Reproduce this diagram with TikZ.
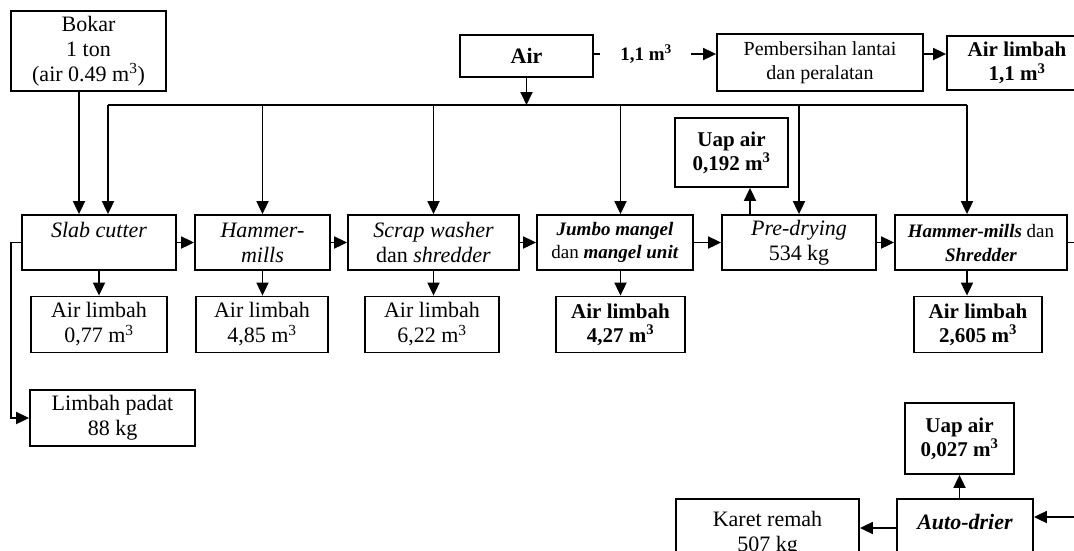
\documentclass[tikz,border=0pt]{standalone}
\usepackage{fontspec}
\setmainfont{Liberation Serif}
\usetikzlibrary{arrows.meta,calc}
\begin{document}
\begin{tikzpicture}[x=1pt,y=-1pt,
  box/.style={draw, line width=1.8pt, inner sep=0pt, align=center, font=\fontsize{22}{25}\selectfont},
  bbox/.style={box, font=\fontsize{21}{24}\selectfont\bfseries},
  arr/.style={line width=1.8pt, -{Triangle[length=13pt,width=12pt]}},
  ln/.style={line width=1.8pt}]
\useasboundingbox (0,0) rectangle (1074,550);
\clip (0,0) rectangle (1074,550);

% top row
\node[box, minimum width=155pt, minimum height=80pt] (bokar) at (88.5,51) {Bokar\\1 ton\\(air 0.49 m\textsuperscript{3})};
\node[box, minimum width=133pt, minimum height=42pt, font=\fontsize{22}{25}\selectfont\bfseries] (air) at (526.5,56) {Air};
\node[font=\fontsize{19}{22}\selectfont\bfseries] (q) at (646,54) {1,1 m\textsuperscript{3}};
\node[box, minimum width=206pt, minimum height=57pt, font=\fontsize{20}{24}\selectfont] (pemb) at (820,62.5) {Pembersihan lantai\\dan peralatan};
\node[bbox, minimum width=140pt, minimum height=54pt] (al11) at (1017,63) {Air limbah\\1,1 m\textsuperscript{3}};
\node[bbox, minimum width=113pt, minimum height=69pt] (uap1) at (731.5,152.5) {Uap air\\0,192 m\textsuperscript{3}};

% process row
\node[box, minimum width=154pt, minimum height=55pt] (slab) at (99,242.5) {\textit{Slab cutter}\\\mbox{}};
\node[box, minimum width=135pt, minimum height=55pt] (ham) at (262.5,242.5) {\textit{Hammer-}\\\textit{mills}};
\node[box, minimum width=171pt, minimum height=55pt] (scrap) at (433.5,242.5) {\textit{Scrap washer}\\dan \textit{shredder}};
\node[box, minimum width=156pt, minimum height=55pt, font=\fontsize{19}{23}\selectfont] (jumbo) at (615,242.5) {\textbf{\textit{Jumbo mangel}}\\dan \textbf{\textit{mangel unit}}};
\node[box, minimum width=154pt, minimum height=55pt] (pre) at (799,242.5) {\textit{Pre-drying}\\534 kg};
\node[box, minimum width=172pt, minimum height=55pt, font=\fontsize{19}{24}\selectfont] (hms) at (981,242.5) {\textbf{\textit{Hammer-mills}} dan\\\textbf{\textit{Shredder}}};

% waste water row
\node[box, minimum width=136pt, minimum height=56pt] (al077) at (99,324.5) {Air limbah\\0,77 m\textsuperscript{3}};
\node[box, minimum width=132pt, minimum height=56pt] (al485) at (262,324.5) {Air limbah\\4,85 m\textsuperscript{3}};
\node[box, minimum width=134pt, minimum height=56pt] (al622) at (432,324.5) {Air limbah\\6,22 m\textsuperscript{3}};
\node[bbox, minimum width=129pt, minimum height=56pt] (al427) at (620.5,324.5) {Air limbah\\4,27 m\textsuperscript{3}};
\node[bbox, minimum width=128pt, minimum height=56pt] (al2605) at (978,324.5) {Air limbah\\2,605 m\textsuperscript{3}};

% bottom
\node[box, minimum width=165pt, minimum height=56pt] (padat) at (112.5,418) {Limbah padat\\88 kg};
\node[bbox, minimum width=109pt, minimum height=71pt] (uap2) at (959.5,438.5) {Uap air\\0,027 m\textsuperscript{3}};
\node[box, minimum width=136pt, minimum height=70pt, font=\fontsize{22}{25}\selectfont\bfseries] (auto) at (965,534) {\textit{Auto-drier}\\\mbox{}};
\node[box, minimum width=183pt, minimum height=70pt] (karet) at (767.5,534) {Karet remah\\507 kg};

% connectors
\coordinate (busL) at (108,105);
\coordinate (busR) at (967,105);
\draw[ln] (busL) -- (busR);
\draw[arr] (busL) -- (busL |- slab.north);
\draw[arr] (ham.north |- busL) -- (ham.north);
\draw[arr] (scrap.north |- busL) -- (scrap.north);
\draw[arr] (al427.north |- busL) -- (al427.north |- jumbo.north);
\draw[arr] (pre.north |- busL) -- (pre.north);
\draw[arr] (busR) -- (busR |- hms.north);
\draw[arr] (air.south) -- (air.south |- busL);

\coordinate (bk) at ($(bokar.south)+(-9.5,0)$);
\draw[arr] (bk) -- (bk |- slab.north);

\draw[ln] (air.east |- q) -- ++(6,0);
\draw[arr] ($(q.east)+(16,0)$) -- (pemb.west |- q);
\draw[arr] (pemb.east |- q) -- (al11.west |- q);

\draw[arr] (slab.east) -- (ham.west);
\draw[arr] (ham.east) -- (scrap.west);
\draw[arr] (scrap.east) -- (jumbo.west);
\draw[arr] (jumbo.east) -- (pre.west);
\draw[arr] (pre.east) -- (hms.west);

\draw[arr] (slab.south) -- (al077.north);
\draw[arr] (ham.south) -- (ham.south |- al485.north);
\draw[arr] (scrap.south) -- (scrap.south |- al622.north);
\draw[arr] (al427.north |- jumbo.south) -- (al427.north);
\draw[arr] (busR |- hms.south) -- (busR |- al2605.north);

\coordinate (pu) at ($(pre.north)+(-49,0)$);
\draw[arr] (pu) -- (pu |- uap1.south);

\draw[arr] (slab.west) -- ++(-10,0) |- (padat.west);

\coordinate (offR) at (1095,0);
\coordinate (ain) at ($(auto.east)+(0,-17)$);
\draw[arr] (hms.east) -- (hms.east -| offR) |- (ain);
\draw[arr] (uap2.south |- auto.north) -- (uap2.south);
\coordinate (ak) at ($(auto.west)+(0,-6)$);
\draw[arr] (ak) -- (ak -| karet.east);
\end{tikzpicture}
\end{document}
